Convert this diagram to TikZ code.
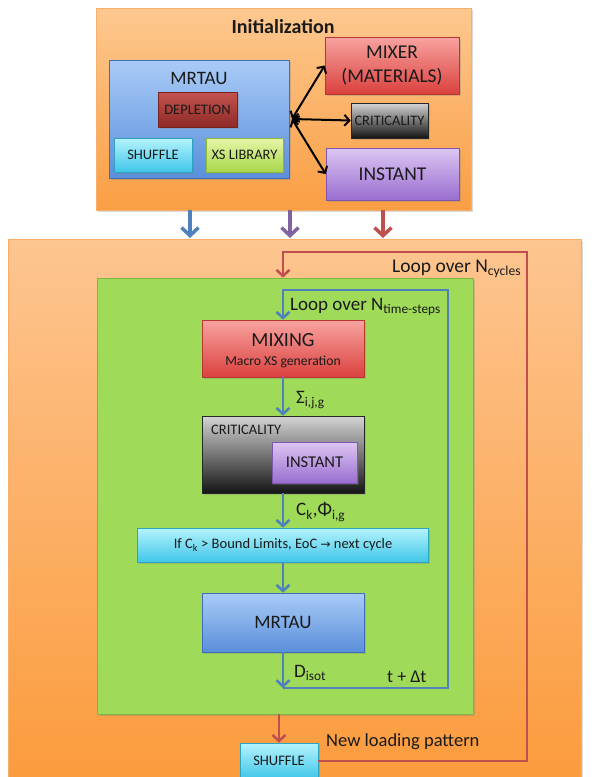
\documentclass[tikz,border=0pt]{standalone}
\usepackage{fontspec}
\setmainfont{Carlito}
\newfontfamily\arrowfont{DejaVu Sans}
\usetikzlibrary{arrows.meta,shadows}

\newcommand\fsz[1]{\fontsize{#1}{#1}\selectfont}

% palette
\definecolor{ink}{HTML}{1A1A1A}
\definecolor{orTop}{HTML}{FDC88F}
\definecolor{orBot}{HTML}{FA9E43}
\definecolor{orEdge}{HTML}{F6B06C}
\definecolor{ouTop}{HTML}{FDC590}
\definecolor{ouBot}{HTML}{FB9A3A}
\definecolor{blTop}{HTML}{A9CBF7}
\definecolor{blBot}{HTML}{5A8FDB}
\definecolor{blEdge}{HTML}{3F6FB8}
\definecolor{drTop}{HTML}{C4534F}
\definecolor{drBot}{HTML}{8E2A27}
\definecolor{drEdge}{HTML}{7A2422}
\definecolor{cyTop}{HTML}{B5F3FD}
\definecolor{cyBot}{HTML}{3FC6E8}
\definecolor{cyEdge}{HTML}{2FA3C2}
\definecolor{liTop}{HTML}{E6F7A8}
\definecolor{liBot}{HTML}{A9D64A}
\definecolor{liEdge}{HTML}{8DB83A}
\definecolor{rdTop}{HTML}{F8A3A0}
\definecolor{rdBot}{HTML}{DA413E}
\definecolor{rdEdge}{HTML}{B83532}
\definecolor{gyTop}{HTML}{D4D4D4}
\definecolor{gyMid}{HTML}{8C8C8C}
\definecolor{gyBot}{HTML}{151515}
\definecolor{gyEdge}{HTML}{262626}
\definecolor{puTop}{HTML}{DCC6F2}
\definecolor{puBot}{HTML}{9A6ED0}
\definecolor{puEdge}{HTML}{7E58B0}
\definecolor{grFill}{HTML}{9FDA58}
\definecolor{grEdge}{HTML}{7EB644}
\definecolor{flowblue}{HTML}{4F81BD}
\definecolor{flowpurple}{HTML}{8064A2}
\definecolor{flowred}{HTML}{C0504D}

\begin{document}
\begin{tikzpicture}[x=1pt,y=-1pt,
  base/.style={rectangle, inner sep=0pt, line width=0.6pt, text=ink, align=center,
    drop shadow={shadow xshift=1.5pt, shadow yshift=-1.5pt, opacity=0.3}},
  initbox/.style={base, top color=orTop, bottom color=orBot, draw=orEdge},
  outerbox/.style={base, top color=ouTop, bottom color=ouBot, draw=orEdge},
  bluebox/.style={base, top color=blTop, bottom color=blBot, draw=blEdge},
  darkredbox/.style={base, top color=drTop, bottom color=drBot, draw=drEdge},
  cyanbox/.style={base, top color=cyTop, bottom color=cyBot, draw=cyEdge},
  limebox/.style={base, top color=liTop, bottom color=liBot, draw=liEdge},
  redbox/.style={base, top color=rdTop, bottom color=rdBot, draw=rdEdge},
  graybox/.style={base, top color=gyTop, bottom color=gyBot, draw=gyEdge},
  graytall/.style={base, top color=gyTop, middle color=gyMid, bottom color=gyBot, draw=gyEdge},
  purplebox/.style={base, top color=puTop, bottom color=puBot, draw=puEdge},
  greenbox/.style={base, fill=grFill, draw=grEdge},
  lbl/.style={inner sep=0pt, text=ink},
  fatarrow/.style={line width=3.5pt, -{Straight Barb[length=8pt,width=17pt]}},
  twohead/.style={line width=2pt, black, {Straight Barb[length=5pt,width=11pt]}-{Straight Barb[length=5pt,width=11pt]}},
  loopline/.style={line width=2.6pt},
  looparrow/.style={line width=2.6pt, -{Straight Barb[length=6pt,width=13pt]}},
]
\useasboundingbox (0,0) rectangle (596,777);
\clip (0,0) rectangle (596,777);

% ---------- initialization block ----------
\node[initbox, minimum width=375, minimum height=202] (init) at (283.5,109) {};
\node[lbl, font=\bfseries\fsz{20}] (initT) at (283,27) {Initialization};

\node[bluebox, minimum width=180, minimum height=118] (mrtauA) at (199,119) {};
\node[lbl, font=\fsz{19}] (mrtauAT) at (199,78) {MRTAU};
\node[darkredbox, minimum width=79, minimum height=35, font=\fsz{14.5}] (deplA) at (197.5,109.5) {DEPLETION};
\node[cyanbox, minimum width=78, minimum height=34, font=\fsz{14.5}] (shufA) at (153,155) {SHUFFLE};
\node[limebox, minimum width=77, minimum height=34, font=\fsz{14.5}] (xsA) at (244.5,155) {XS LIBRARY};

\node[redbox, minimum width=134, minimum height=57, font=\fontsize{19.5}{24}\selectfont] (mixA) at (392,65.5) {MIXER\\(MATERIALS)};
\node[graybox, minimum width=77, minimum height=35, font=\fsz{14.5}] (critA) at (389.5,120.5) {CRITICALITY};
\node[purplebox, minimum width=133, minimum height=52, font=\fsz{19.5}] (instA) at (392.5,174) {INSTANT};

\coordinate (hub) at (292,119);
\draw[twohead] (hub) -- (mixA.west);
\draw[twohead] (hub) -- (critA.west);
\draw[twohead] (hub) -- (instA.west);

% ---------- outer cycle block ----------
\node[outerbox, minimum width=573, minimum height=560] (outer) at (294.5,519) {};

% hand-off arrows from initialization
\coordinate (dB) at (190,238);
\coordinate (dP) at (290,238);
\coordinate (dR) at (383,238);
\draw[fatarrow, flowblue] (init.south -| dB) -- (dB);
\draw[fatarrow, flowpurple] (init.south -| dP) -- (dP);
\draw[fatarrow, flowred] (init.south -| dR) -- (dR);

% ---------- time-step block ----------
\node[greenbox, minimum width=376, minimum height=436] (green) at (285,496) {};

\node[redbox, minimum width=162, minimum height=57] (mixB) at (283,348.5) {};
\node[lbl, font=\fsz{20}] (mixBT) at (283,340) {MIXING};
\node[lbl, font=\fsz{13.7}] (mixBS) at (283,362) {Macro XS generation};

\node[graytall, minimum width=162, minimum height=77] (critB) at (283,454.5) {};
\node[lbl, anchor=west, font=\fsz{14.5}] (critBT) at (211,430) {CRITICALITY};
\node[purplebox, minimum width=85, minimum height=41, font=\fsz{16.5}] (instB) at (314.5,462.5) {INSTANT};

\node[cyanbox, minimum width=291, minimum height=34, font=\fsz{14.5}] (bound) at (283,545)
  {If C\textsubscript{k} > Bound Limits, EoC {\arrowfont\fontsize{12}{12}\selectfont →} next cycle};

\node[bluebox, minimum width=162, minimum height=59, font=\fsz{19}] (mrtauB) at (283,622.5) {MRTAU};

\node[cyanbox, minimum width=78, minimum height=36, font=\fsz{14.5}] (shufB) at (279,761) {SHUFFLE};

% time-step flow
\draw[looparrow, flowblue] (mixB.south) -- (critB.north);
\draw[looparrow, flowblue] (critB.south) -- (bound.north);
\draw[looparrow, flowblue] (bound.south) -- (mrtauB.north);
\coordinate (bBL) at (283,688);
\coordinate (bBR) at (448,688);
\coordinate (bTR) at (448,290);
\coordinate (bTL) at (283,290);
\draw[looparrow, flowblue] (mrtauB.south) -- (bBL);
\draw[looparrow, flowblue, line join=miter] (bBL) -- (bBR) -- (bTR) -- (bTL) -- (mixB.north);

% cycle flow
\draw[looparrow, flowred] (green.south -| shufB.north) -- (shufB.north);
\coordinate (rBR) at (527,761);
\coordinate (rTR) at (527,252);
\coordinate (rTL) at (283,252);
\draw[looparrow, flowred, line join=miter] (shufB.east) -- (rBR) -- (rTR) -- (rTL) -- (rTL |- green.north);

% labels
\node[lbl, anchor=west, font=\fsz{19.5}] (cycT) at (392,269) {Loop over N\textsubscript{cycles}};
\node[lbl, anchor=west, font=\fsz{19}] (tsT) at (290,307) {Loop over N\textsubscript{time-steps}};
\node[lbl, anchor=west, font=\fsz{19}] (sigL) at (296,400) {Σ\textsubscript{i,j,g}};
\node[lbl, anchor=west, font=\fsz{19}] (ckL) at (296,512) {C\textsubscript{k},Φ\textsubscript{i,g}};
\node[lbl, anchor=west, font=\fsz{19}] (dL) at (294,673) {D\textsubscript{isot}};
\node[lbl, anchor=west, font=\fsz{18}] (tL) at (387,677) {t + Δt};
\node[lbl, anchor=west, font=\fsz{18.5}] (nlpL) at (326,742) {New loading pattern};
\end{tikzpicture}
\end{document}
